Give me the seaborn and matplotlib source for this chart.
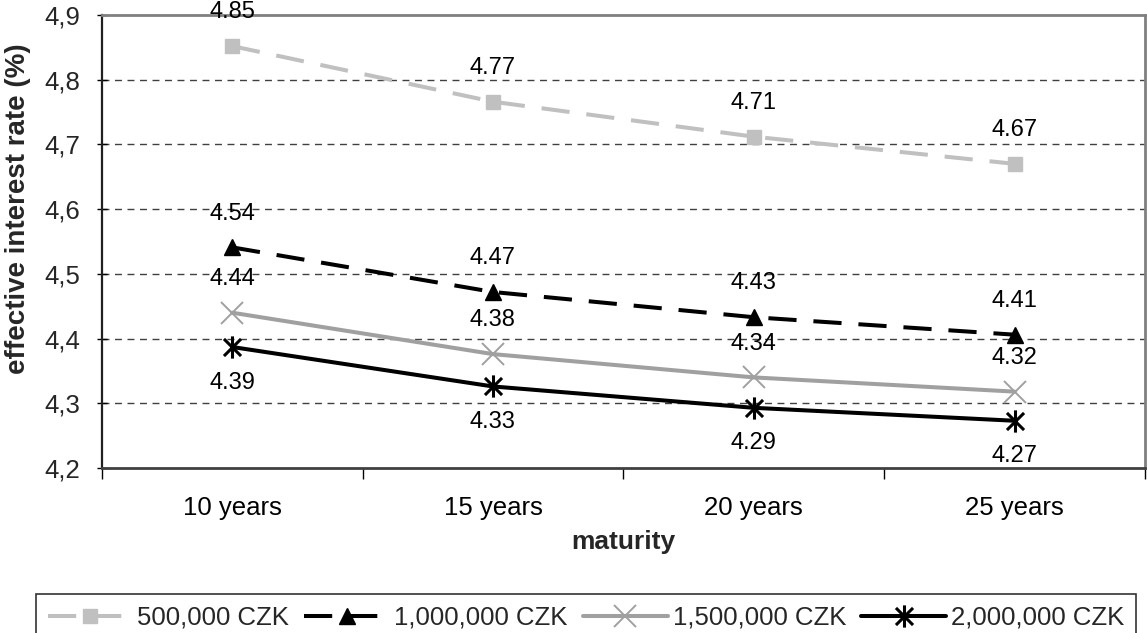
import matplotlib
matplotlib.use("Agg")
import matplotlib.pyplot as plt
import seaborn as sns
import pandas as pd
import numpy as np
from matplotlib.path import Path
from matplotlib.ticker import FuncFormatter, FixedLocator
from matplotlib.lines import Line2D

# ---- data ----
maturities = ["10 years", "15 years", "20 years", "25 years"]
series_names = ["500,000 CZK", "1,000,000 CZK", "1,500,000 CZK", "2,000,000 CZK"]
rate_500k = [4.852, 4.766, 4.712, 4.670]
rate_1m = [4.541, 4.472, 4.433, 4.406]
rate_1_5m = [4.440, 4.376, 4.340, 4.318]
rate_2m = [4.387, 4.326, 4.293, 4.273]
y_ticks = [4.2, 4.3, 4.4, 4.5, 4.6, 4.7, 4.8, 4.9]

all_rates = [rate_500k, rate_1m, rate_1_5m, rate_2m]
df = pd.DataFrame({
    "maturity": maturities * 4,
    "rate": [v for s in all_rates for v in s],
    "series": [n for n in series_names for _ in maturities],
})

sns.set_theme(style="white")
plt.rcParams["font.family"] = ["Liberation Sans", "DejaVu Sans"]

fig = plt.figure(figsize=(11.47, 6.33), dpi=100)
ax = fig.add_axes([101.7 / 1147, 1 - 468 / 633, (1145 - 101.7) / 1147, (468 - 15) / 633])

star = Path([(-1, -1), (1, 1), (-1, 1), (1, -1), (0, -1.3), (0, 1.3)],
            [Path.MOVETO, Path.LINETO, Path.MOVETO, Path.LINETO, Path.MOVETO, Path.LINETO])

colors = {series_names[0]: "#C0C0C0", series_names[1]: "#000000",
          series_names[2]: "#A0A0A0", series_names[3]: "#000000"}
markers = {series_names[0]: "s", series_names[1]: "^", series_names[2]: "x", series_names[3]: star}
lstyles = {series_names[0]: (0, (7, 4.2)), series_names[1]: (0, (7, 4.2)),
           series_names[2]: "-", series_names[3]: "-"}
msizes = {series_names[0]: 10.5, series_names[1]: 11.5, series_names[2]: 15.5, series_names[3]: 16}
mews = {series_names[0]: 1.0, series_names[1]: 1.0, series_names[2]: 1.4, series_names[3]: 2.2}
LW = 2.9

for name in series_names:
    sub = df[df["series"] == name]
    sns.lineplot(data=sub, x="maturity", y="rate", color=colors[name],
                 marker=markers[name], markersize=msizes[name],
                 markerfacecolor=colors[name], markeredgecolor=colors[name],
                 markeredgewidth=mews[name], linestyle=lstyles[name],
                 linewidth=LW, ax=ax, sort=False, legend=False)

ax.set_xlim(-0.5, 3.5)
ax.set_ylim(4.2, 4.9)
ax.yaxis.set_major_locator(FixedLocator(y_ticks))
ax.yaxis.set_major_formatter(FuncFormatter(lambda v, p: f"{v:.1f}".replace(".", ",")))
ax.set_xticks(range(len(maturities)))
ax.set_xticklabels(maturities)
ax.set_xticks(np.arange(-0.5, len(maturities), 1.0), minor=True)
ax.tick_params(axis="x", which="major", length=0, labelsize=18.5, pad=20, colors="black")
ax.tick_params(axis="x", which="minor", length=8, width=1, direction="out", color="black",
               bottom=True)
ax.tick_params(axis="y", which="major", length=7, width=1, direction="inout", labelsize=18.5,
               pad=12, color="black", left=True)

ax.grid(False)
for yv in y_ticks[1:-1]:
    ax.axhline(yv, color="#404040", lw=1.0, ls=(0, (5, 4)), zorder=0.5)

for side in ["top", "right"]:
    ax.spines[side].set_color("#808080")
    ax.spines[side].set_linewidth(2)
ax.spines["left"].set_color("#202020")
ax.spines["left"].set_linewidth(1.6)
ax.spines["bottom"].set_color("#404040")
ax.spines["bottom"].set_linewidth(2)

ax.set_xlabel("maturity", fontsize=19, fontweight="bold")
ax.set_ylabel("effective interest rate (%)", fontsize=20, fontweight="bold")
ax.xaxis.set_label_coords(0.5, (468 - 530) / 453)
ax.yaxis.set_label_coords((31 - 101.7) / 1043.3, (468 - 209) / 453)

# data labels
for name, vals in zip(series_names, all_rates):
    off = -30 if name == series_names[3] else 20
    for i, v in enumerate(vals):
        ax.annotate(f"{v:.2f}", (i, v), xytext=(0, off), textcoords="offset points",
                    ha="center", va="baseline", fontsize=17, color="black",
                    annotation_clip=False, zorder=5)

# legend
handles = []
for name in series_names:
    handles.append(Line2D([], [], color=colors[name], lw=LW, ls=lstyles[name],
                          marker=markers[name], markersize=msizes[name],
                          markerfacecolor=colors[name], markeredgecolor=colors[name],
                          markeredgewidth=mews[name]))
leg = fig.legend(handles, series_names, loc="upper left", ncol=4, mode="expand",
                 bbox_to_anchor=(36 / 1147, 1 - 594 / 633, (1136 - 36) / 1147, 0.0),
                 frameon=True, fancybox=False, edgecolor="black", fontsize=18.5,
                 handlelength=3.3, handletextpad=0.2, columnspacing=0.3,
                 borderpad=0.45, borderaxespad=0)
leg.get_frame().set_linewidth(1.2)

fig.savefig("out.png", dpi=100)
